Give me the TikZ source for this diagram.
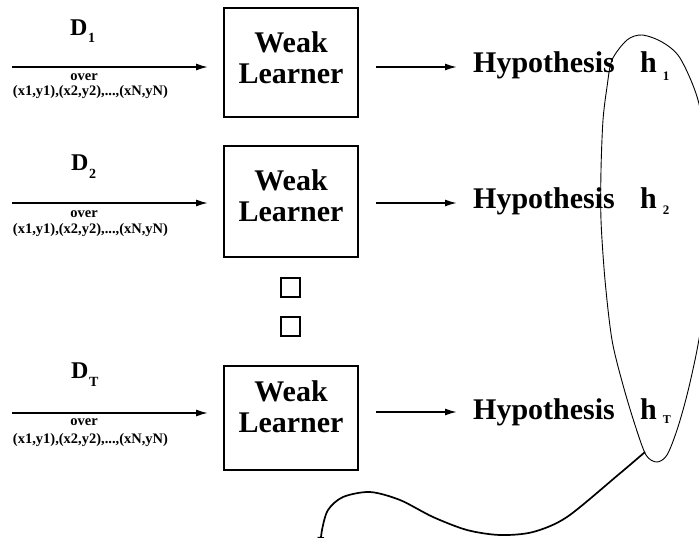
\documentclass[tikz,border=0pt]{standalone}
\usepackage{fontspec}
\setmainfont{Liberation Serif}
\usetikzlibrary{arrows.meta}
\begin{document}
\begin{tikzpicture}[x=1pt,y=-1pt,
  arr/.style={line width=1.7pt,-{Latex[length=12pt,width=7pt]}},
  wlbox/.style={draw,line width=1.8pt,minimum width=134pt,align=center,inner sep=0pt,
    font=\bfseries\fontsize{30}{31}\selectfont},
  hyp/.style={anchor=base west,inner sep=0pt,font=\bfseries\fontsize{30}{31}\selectfont},
  dlab/.style={anchor=base west,inner sep=0pt,font=\bfseries\fontsize{24}{26}\selectfont},
  small/.style={anchor=base,inner sep=0pt,font=\bfseries\fontsize{14.5}{15}\selectfont},
  dotbox/.style={draw,line width=2pt,minimum size=19pt,inner sep=0pt},
  loopline/.style={line width=0.9pt},
  tailline/.style={line width=1.7pt,-{Latex[length=12pt,width=7pt]}}]
\useasboundingbox (0,0) rectangle (699,538);
\clip (0,0) rectangle (699,538);

% weak learner boxes
\node[wlbox,minimum height=109pt,text depth=10pt] (wl1) at (291,62.5) {Weak\\Learner};
\node[wlbox,minimum height=111pt,text depth=12pt] (wl2) at (291,201.5) {Weak\\Learner};
\node[wlbox,minimum height=104pt,text depth=22pt] (wl3) at (291,418) {Weak\\Learner};

% dots
\node[dotbox] (dot1) at (290.5,287.5) {};
\node[dotbox] (dot2) at (290.5,326.5) {};

% distributions
\node[dlab] (d1) at (70,35) {D\hspace{0.5pt}\raisebox{-7pt}{\fontsize{14}{14}\selectfont 1}};
\node[dlab] (d2) at (71,170) {D\hspace{0.5pt}\raisebox{-8pt}{\fontsize{14}{14}\selectfont 2}};
\node[dlab] (d3) at (71,378) {D\hspace{0.5pt}\raisebox{-8pt}{\fontsize{14}{14}\selectfont T}};

\node[small] (ov1) at (84,80) {over};
\node[small] (xy1) at (90.5,95) {(x1,y1),(x2,y2),...,(xN,yN)};
\node[small] (ov2) at (84,217) {over};
\node[small] (xy2) at (90.5,233) {(x1,y1),(x2,y2),...,(xN,yN)};
\node[small] (ov3) at (84,425) {over};
\node[small] (xy3) at (90.5,443) {(x1,y1),(x2,y2),...,(xN,yN)};

% hypotheses
\node[hyp] (hy1) at (473,72) {Hypothesis};
\node[hyp] (h1) at (640,72) {h\hspace{6pt}\raisebox{-8pt}{\fontsize{13}{13}\selectfont 1}};
\node[hyp] (hy2) at (473,208) {Hypothesis};
\node[hyp] (h2) at (640,208) {h\hspace{6pt}\raisebox{-6pt}{\fontsize{13}{13}\selectfont 2}};
\node[hyp] (hy3) at (473,419) {Hypothesis};
\node[hyp] (h3) at (640,419) {h\hspace{6pt}\raisebox{-4pt}{\fontsize{12}{12}\selectfont T}};

% input arrows
\coordinate (in1) at (12,67);
\coordinate (in2) at (12,203);
\coordinate (in3) at (12,413);
\draw[arr] (in1) -- ([xshift=-15pt]wl1.west |- in1);
\draw[arr] (in2) -- ([xshift=-15pt]wl2.west |- in2);
\draw[arr] (in3) -- ([xshift=-15pt]wl3.west |- in3);

% output arrows
\coordinate (o1) at (376,67);
\coordinate (o2) at (376,203);
\coordinate (o3) at (376,412);
\draw[arr] ([xshift=17pt]wl1.east |- o1) -- ([xshift=-16pt]hy1.west |- o1);
\draw[arr] ([xshift=17pt]wl2.east |- o2) -- ([xshift=-16pt]hy2.west |- o2);
\draw[arr] ([xshift=17pt]wl3.east |- o3) -- ([xshift=-16pt]hy3.west |- o3);

% loop around the hypotheses
\draw[loopline] plot[smooth cycle] coordinates {
  (642,35) (662,42) (680,58) (698,100) (708,160) (710,230) (705,300)
  (697,350) (687,395) (677,430) (667,455) (657,462) (646,455) (635,425)
  (623,385) (612,340) (605,280) (601,220) (601,170) (603,120) (607,87)
  (612,60) (627,40)};

% tail
\coordinate (tail) at (645,452);
\draw[tailline] plot[smooth] coordinates {
  (tail) (618,475) (567,517) (533,532) (500,535) (467,530) (433,517)
  (400,500) (370,492) (343,497) (328,510) (322,530) (320,549)};
\end{tikzpicture}
\end{document}
